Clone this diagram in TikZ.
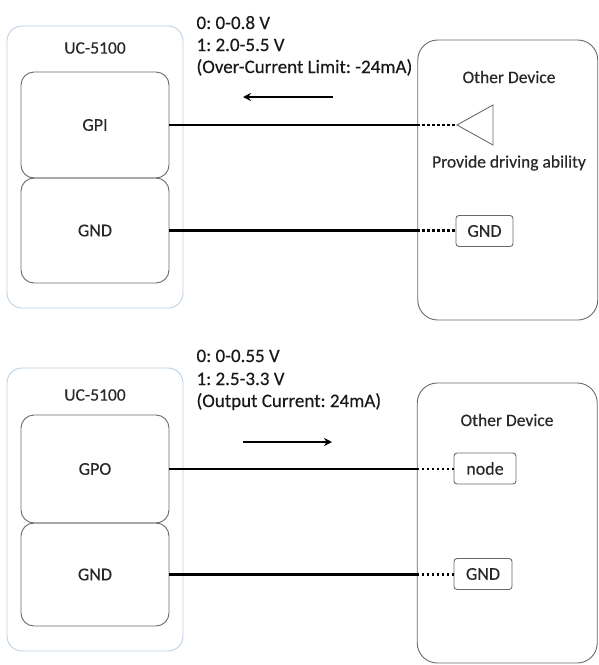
\documentclass[tikz,border=0pt]{standalone}
\usepackage{fontspec}
\setmainfont{Carlito}[FakeBold=0.3]
\usetikzlibrary{arrows.meta}
\definecolor{uclight}{RGB}{188,208,228}
\definecolor{boxline}{RGB}{105,105,105}
\definecolor{txt}{RGB}{40,40,40}
\frenchspacing

\begin{document}
\begin{tikzpicture}[x=1pt,y=-1pt,
    every node/.style={text=txt,font=\fontsize{18}{21}\selectfont},
    ucbox/.style={draw=uclight,line width=0.9pt,rounded corners=15pt,minimum width=176pt},
    port/.style={draw=boxline,line width=0.9pt,rounded corners=13pt,minimum width=148pt},
    devbox/.style={draw=boxline,line width=0.9pt,rounded corners=20pt,minimum width=180pt,minimum height=280pt},
    pin/.style={draw=boxline,line width=0.9pt,rounded corners=3pt,minimum height=31pt,inner xsep=4pt},
    label/.style={font=\fontsize{17.5}{20}\selectfont},
    note/.style={anchor=base west,text=black!90,font=\fontsize{19}{22}\selectfont},
    wire/.style={line width=2.8pt,black},
    dots/.style={line width=2.4pt,black,dash pattern=on 2.4pt off 2.6pt},
    flow/.style={line width=2.2pt,black,-{Stealth[length=8pt,width=8pt]}}]
    \useasboundingbox (0,0) rectangle (599,665);

    \node[ucbox,minimum height=282pt] (uc1) at (95,167) {};
    \node[label] at (95,48) {UC-5100};
    \node[port,minimum height=106pt] (gpi) at (95,125) {GPI};
    \node[port,minimum height=105pt] (gnd1) at (95,230.5) {GND};
    \node[devbox] (od1) at (507.75,180) {};
    \node[label] at (509,77) {Other Device};
    \coordinate (tip) at (457,125);
    \draw[boxline,line width=0.9pt] (tip) -- (493,105) -- (493,145) -- cycle;
    \node[label] at (509,163) {Provide driving ability};
    \node[pin,minimum width=57pt] (pgnd1) at (484.5,231) {GND};
    \draw[wire] (gpi.east) -- (gpi.east -| od1.west);
    \draw[dots] (gpi.east -| od1.west) -- (tip);
    \draw[wire] (gnd1.east) -- (gnd1.east -| od1.west);
    \draw[dots] (gnd1.east -| od1.west) -- (gnd1.east -| pgnd1.west);
    \node[note] at (193,29) {0: 0-0.8 V};
    \node[note] at (193,51) {1: 2.0-5.5 V};
    \node[note] at (193,73) {(Over-Current Limit: -24mA)};
    \coordinate (in1) at (333,97);
    \coordinate (in2) at (243,97);
    \draw[flow] (in1) -- (in2);

    \node[ucbox,minimum height=283pt] (uc2) at (95,509.5) {};
    \node[label] at (95,395) {UC-5100};
    \node[port,minimum height=108pt] (gpo) at (95,469) {GPO};
    \node[port,minimum height=103pt] (gnd2) at (95,574.5) {GND};
    \node[devbox] (od2) at (507.25,523) {};
    \node[label] at (507,420) {Other Device};
    \node[pin,minimum width=62pt] (pnode) at (485,468.5) {node};
    \node[pin,minimum width=58pt] (pgnd2) at (483,574) {GND};
    \draw[wire] (gpo.east) -- (gpo.east -| od2.west);
    \draw[dots] (gpo.east -| od2.west) -- (gpo.east -| pnode.west);
    \draw[wire] (gnd2.east) -- (gnd2.east -| od2.west);
    \draw[dots] (gnd2.east -| od2.west) -- (gnd2.east -| pgnd2.west);
    \node[note] at (193,362) {0: 0-0.55 V};
    \node[note] at (193,385) {1: 2.5-3.3 V};
    \node[note] at (193,407) {(Output Current: 24mA)};
    \coordinate (out1) at (243,442);
    \coordinate (out2) at (332,442);
    \draw[flow] (out1) -- (out2);
\end{tikzpicture}
\end{document}
